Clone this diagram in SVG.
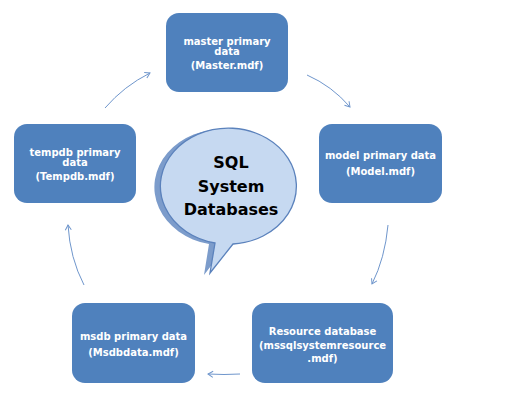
<svg xmlns="http://www.w3.org/2000/svg" width="514" height="402" viewBox="0 0 514 402">
<defs>
<style>
.box{fill:#4F81BD;}
.t{font-family:"DejaVu Sans",Verdana,sans-serif;font-weight:bold;font-size:10px;fill:#FFFFFF;text-anchor:middle;}
.big{font-family:"DejaVu Sans",Verdana,sans-serif;font-weight:bold;font-size:16px;fill:#000000;text-anchor:middle;}
.c{fill:none;stroke:#6F96CC;stroke-width:1;}
</style>
<marker id="ah" markerWidth="8" markerHeight="8" refX="6" refY="4" orient="auto" markerUnits="userSpaceOnUse">
<path d="M1,1 L6,4 L1,7" fill="none" stroke="#6F96CC" stroke-width="1"/>
</marker>
</defs>
<rect width="514" height="402" fill="#FFFFFF"/>
<g id="connectors">
<path class="c" d="M307,75 Q332,86 350,107" marker-end="url(#ah)"/>
<path class="c" d="M388,225 Q385,258 372,284" marker-end="url(#ah)"/>
<path class="c" d="M240,374 Q224,375 208,374" marker-end="url(#ah)"/>
<path class="c" d="M84,285 Q70,258 68,225" marker-end="url(#ah)"/>
<path class="c" d="M105,108 Q124,86 150,73" marker-end="url(#ah)"/>
</g>
<g id="bubble">
<path d="M212,243 A68,58 0 1 1 230,244 L207,274 Z" fill="#7C9CCB" transform="translate(-3,1)"/>
<path d="M215,243 A68,58 0 1 1 233,244 L210,273 Z" fill="#C6D9F1" stroke="#5B82BC" stroke-width="1.3" stroke-linejoin="miter"/>
<text class="big" x="231" y="168">SQL</text>
<text class="big" x="231" y="192">System</text>
<text class="big" x="231" y="215">Databases</text>
</g>
<g id="master">
<rect class="box" x="166" y="13" width="122" height="79" rx="13"/>
<text class="t" x="227" y="45">master primary</text>
<text class="t" x="227" y="55">data</text>
<text class="t" x="227" y="69">(Master.mdf)</text>
</g>
<g id="model">
<rect class="box" x="319" y="124" width="123" height="79" rx="13"/>
<text class="t" x="380.5" y="159">model primary data</text>
<text class="t" x="380.5" y="175">(Model.mdf)</text>
</g>
<g id="tempdb">
<rect class="box" x="14" y="124" width="122" height="79" rx="13"/>
<text class="t" x="75" y="155.5">tempdb primary</text>
<text class="t" x="75" y="165.5">data</text>
<text class="t" x="75" y="179.5">(Tempdb.mdf)</text>
</g>
<g id="msdb">
<rect class="box" x="72" y="303" width="123" height="80" rx="13"/>
<text class="t" x="133.5" y="340">msdb primary data</text>
<text class="t" x="133.5" y="356">(Msdbdata.mdf)</text>
</g>
<g id="resource">
<rect class="box" x="252" y="303" width="141" height="80" rx="13"/>
<text class="t" x="322.5" y="334.5">Resource database</text>
<text class="t" x="322.5" y="349">(mssqlsystemresource</text>
<text class="t" x="322.5" y="362">.mdf)</text>
</g>
</svg>
